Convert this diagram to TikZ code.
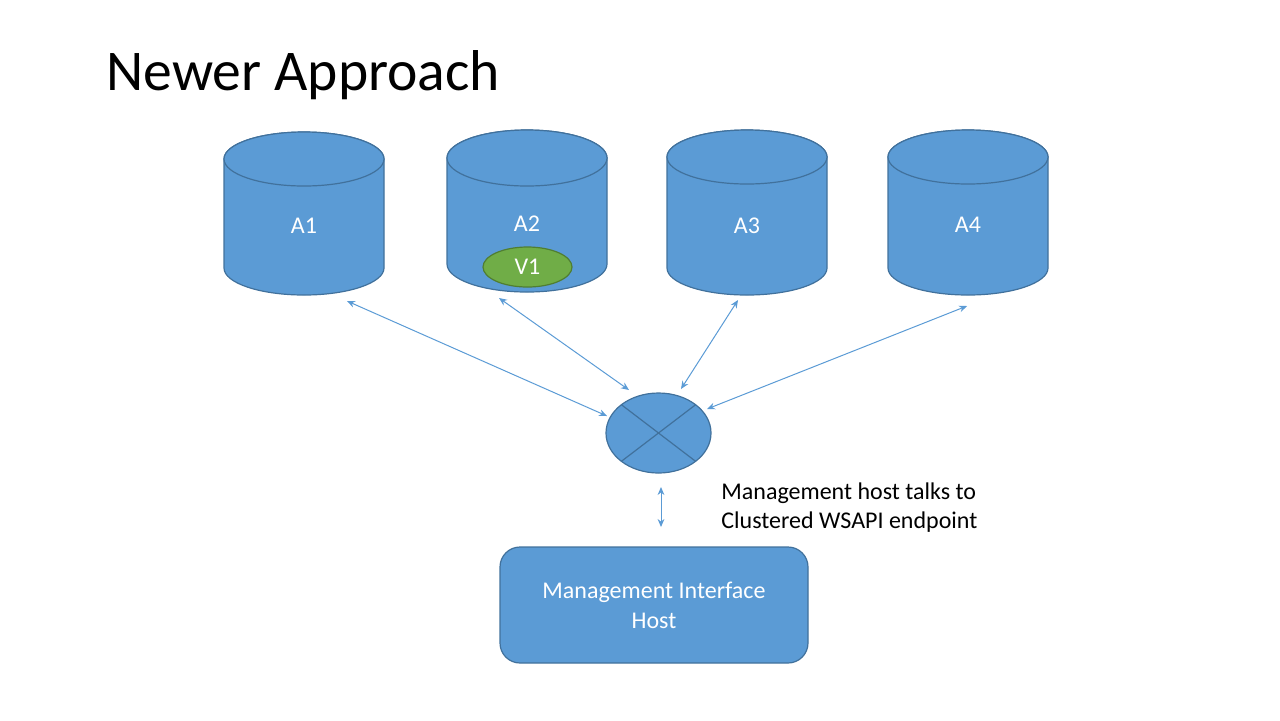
\documentclass[tikz,border=0pt]{standalone}
\usepackage{fontspec}
\setmainfont{Carlito}
\usetikzlibrary{shapes.geometric,arrows.meta,calc}
\definecolor{bfill}{HTML}{5B9BD5}
\definecolor{bline}{HTML}{41719C}
\definecolor{gfill}{HTML}{70AD47}
\definecolor{gline}{HTML}{507E32}
\tikzset{
  shapebox/.style={fill=bfill,draw=bline,line width=0.6pt},
  lbl/.style={text=white,font=\fontsize{12}{15}\selectfont,inner sep=0pt},
  link/.style={draw=bfill,line width=0.5pt,{Stealth[length=4pt,width=3.4pt]}-{Stealth[length=4pt,width=3.4pt]}},
}
\begin{document}
\begin{tikzpicture}[x=0.5pt,y=-0.5pt]
\useasboundingbox (0,0) rectangle (1280,720);
% title
\node[anchor=base west,inner sep=0pt,font=\fontsize{28.8}{34}\selectfont] (title) at (106,90) {Newer Approach};
% cylinders
\foreach \nm/\cx/\top/\bot/\ry/\ly in {A1/304/132/295/27/226, A2/527/130/292/28/224, A3/747/130/295/27/226, A4/968/130/295/27/225}{
  \draw[shapebox] (\cx-80,\top+\ry) -- (\cx-80,\bot-\ry)
     arc[start angle=180,end angle=0,x radius=80,y radius=\ry]
     -- (\cx+80,\top+\ry)
     arc[start angle=0,end angle=-180,x radius=80,y radius=\ry] -- cycle;
  \draw[shapebox] (\cx,\top+\ry) ellipse[x radius=80,y radius=\ry];
  \node[lbl] (\nm) at (\cx,\ly) {\nm};
}
% V1
\node[ellipse,fill=gfill,draw=gline,line width=0.6pt,minimum width=44.5pt,minimum height=20pt,inner sep=0pt,text=white,font=\fontsize{12}{15}\selectfont] (V1) at (527.5,267) {V1};
% hub
\node[ellipse,shapebox,minimum width=52.5pt,minimum height=40pt,inner sep=0pt] (hub) at (658.5,433) {};
\draw[bline,line width=0.6pt] ($(hub.center)+(-37.1,-28.3)$) -- ($(hub.center)+(37.1,28.3)$);
\draw[bline,line width=0.6pt] ($(hub.center)+(37.1,-28.3)$) -- ($(hub.center)+(-37.1,28.3)$);
% management host
\node[shapebox,rounded corners=10pt,minimum width=154pt,minimum height=58pt,inner sep=0pt,
      text=white,align=center,font=\fontsize{12}{15}\selectfont] (mgmt) at (654,605) {Management Interface\\Host};
% annotation
\node[anchor=base west,inner sep=0pt,font=\fontsize{12}{14.5}\selectfont] (note1) at (721,499) {Management host talks to};
\node[anchor=base west,inner sep=0pt,font=\fontsize{12}{14.5}\selectfont] (note2) at (721,528) {Clustered WSAPI endpoint};
% arrow endpoints
\coordinate (a1s) at (347,301); \coordinate (a1e) at (607,416);
\coordinate (a2s) at (499,298); \coordinate (a2e) at (629,390);
\coordinate (a3s) at (738,300); \coordinate (a3e) at (681,389);
\coordinate (a4s) at (967,306); \coordinate (a4e) at (707,409);
\coordinate (hbs) at (661,487); \coordinate (hbe) at (661,527);
\draw[link] (a1s) -- (a1e);
\draw[link] (a2s) -- (a2e);
\draw[link] (a3s) -- (a3e);
\draw[link] (a4s) -- (a4e);
\draw[link] (hbs) -- (hbe);
\end{tikzpicture}
\end{document}
